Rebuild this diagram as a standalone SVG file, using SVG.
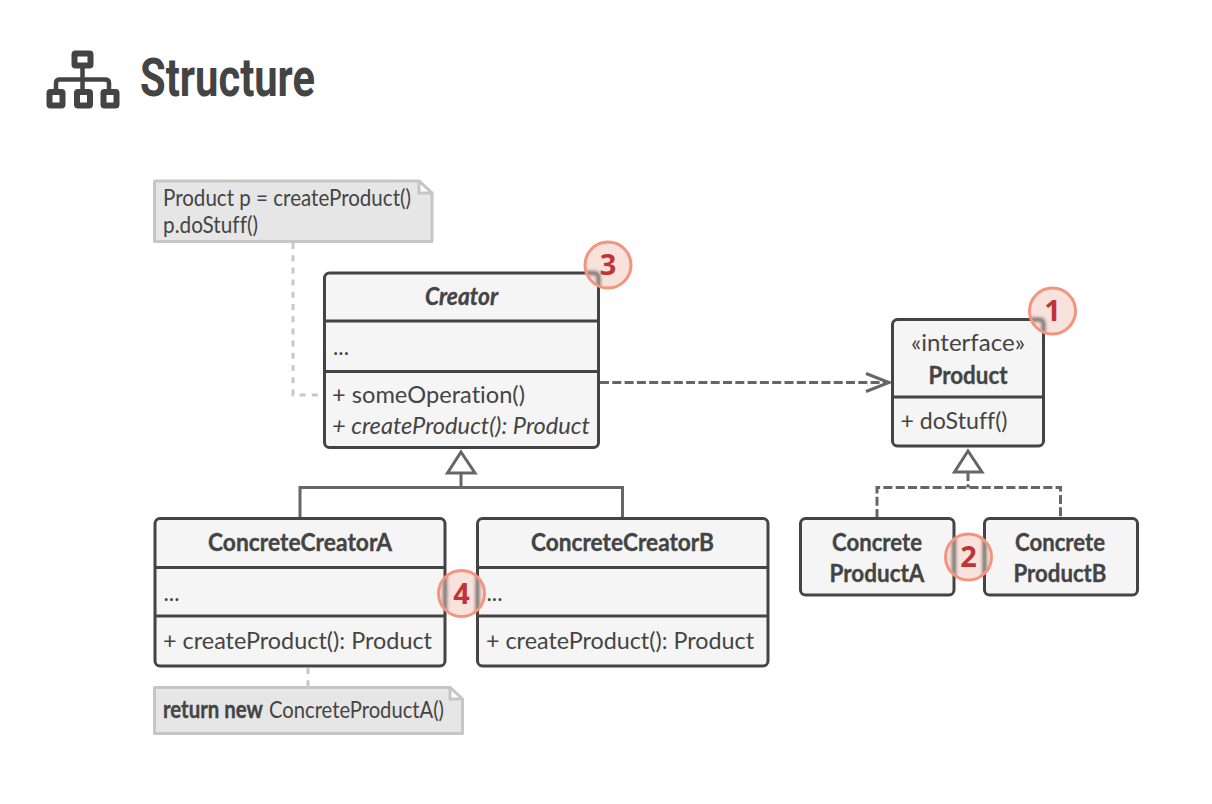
<svg xmlns="http://www.w3.org/2000/svg" width="1212" height="804" viewBox="0 0 1212 804">
<style>
text{font-family:Lato,"Noto Sans","Liberation Sans",sans-serif;font-size:24px;fill:#444;font-variant-ligatures:none}
.b{font-weight:700;stroke:#444;stroke-width:.35px}
.i{font-style:italic}
.m{text-anchor:middle}
.box{fill:#f5f5f5;stroke:#444;stroke-width:3}
.div{stroke:#444;stroke-width:3;fill:none}
.note{fill:#e6e6e6;stroke:#c6c6c6;stroke-width:3;stroke-linejoin:round}
.c{fill:none;stroke:#666;stroke-width:3}
.dash{stroke-dasharray:9 3.3}
.dot{fill:none;stroke:#c8c8c8;stroke-width:3;stroke-dasharray:6 6.2}
.tri{fill:#fff;stroke:#666;stroke-width:3;stroke-linejoin:miter}
.disc{fill:#f9ddd6;fill-opacity:.86}
.ring{fill:none;stroke:#f4947e;stroke-width:3}
.shade{fill:none;stroke:#555;stroke-width:5;stroke-opacity:.6;filter:url(#soft)}
.badge text{font-family:"Noto Sans",sans-serif;font-size:29px;font-weight:700;fill:#bf3439;text-anchor:middle}
.h{font-family:Roboto,"Liberation Sans",sans-serif;font-size:53px;font-weight:700;fill:#444}
</style>
<defs>
<filter id="soft" x="-50%" y="-50%" width="200%" height="200%"><feGaussianBlur stdDeviation="1.5"/></filter>
<clipPath id="clip1"><circle cx="1052.500" cy="311" r="22"/></clipPath>
<clipPath id="clip2"><circle cx="968.500" cy="557" r="22"/></clipPath>
<clipPath id="clip3"><circle cx="608" cy="265" r="22"/></clipPath>
<clipPath id="clip4"><circle cx="461.500" cy="593.500" r="22"/></clipPath>
</defs>
<g id="title">
<g fill="none" stroke="#444" stroke-width="6" stroke-linejoin="round">
<rect x="74.500" y="53.500" width="16" height="12" rx="1"/>
<rect x="49.500" y="92" width="13" height="13.500" rx="1"/>
<rect x="77" y="92" width="13" height="13.500" rx="1"/>
<rect x="103.500" y="92" width="13" height="13.500" rx="1"/>
<path d="M82.500 68V89M56 89V83Q56 79.500 60 79.500H105Q109 79.500 109 83V89" stroke-width="4.500"/>
</g>
<text class="h" x="140" y="96" textLength="175" lengthAdjust="spacingAndGlyphs">Structure</text>
</g>
<g id="connectors">
<path class="dot" d="M293 243V395H323"/>
<path class="dot" d="M308 668V687"/>
<path class="c dash" d="M600 382.500H888"/>
<path class="c" d="M866 373.500L889 382.500L866 391.500" stroke-linejoin="miter"/>
<path class="c" d="M461 472V487.500M300 518V487.500H622.500V518"/>
<path class="c dash" d="M968 472V487.500M877 518V487.500H1060.500V518"/>
<path class="tri" d="M461 452L475 473H447.500Z"/>
<path class="tri" d="M968 451L982 472H954.500Z"/>
</g>
<g id="note-creator">
<path class="note" d="M154.500 181H419L432 193V241.500H154.500Z"/>
<path d="M419 181V193H432Z" fill="#fff" stroke="#c6c6c6" stroke-width="3" stroke-linejoin="round"/>
<text x="163" y="206" textLength="248" lengthAdjust="spacingAndGlyphs">Product p = createProduct()</text>
<text x="163" y="233" textLength="95" lengthAdjust="spacingAndGlyphs">p.doStuff()</text>
</g>
<g id="creator">
<rect class="box" x="324.500" y="273" width="274" height="174.500" rx="5"/>
<path class="div" d="M324.500 321H598.500M324.500 371.500H598.500"/>
<text class="b i m" x="461.500" y="305" textLength="73" lengthAdjust="spacingAndGlyphs">Creator</text>
<text x="333" y="355" textLength="16" lengthAdjust="spacingAndGlyphs">...</text>
<text x="332" y="403" textLength="193" lengthAdjust="spacingAndGlyphs">+ someOperation()</text>
<text class="i" x="332" y="434" textLength="258" lengthAdjust="spacingAndGlyphs">+ createProduct(): Product</text>
</g>
<g id="product">
<rect class="box" x="892.500" y="319.500" width="151" height="126.500" rx="5"/>
<path class="div" d="M892.500 397H1043.500"/>
<text class="m" x="968" y="351" textLength="114" lengthAdjust="spacingAndGlyphs">«interface»</text>
<text class="b m" x="968" y="383.500" textLength="79" lengthAdjust="spacingAndGlyphs">Product</text>
<text x="900.500" y="429" textLength="107" lengthAdjust="spacingAndGlyphs">+ doStuff()</text>
</g>
<g id="concrete-product-a">
<rect class="box" x="800.500" y="518.500" width="153.500" height="76.500" rx="5"/>
<text class="b m" x="877" y="550.500" textLength="90" lengthAdjust="spacingAndGlyphs">Concrete</text>
<text class="b m" x="877" y="581.500" textLength="95" lengthAdjust="spacingAndGlyphs">ProductA</text>
</g>
<g id="concrete-product-b">
<rect class="box" x="984.500" y="518.500" width="153" height="76.500" rx="5"/>
<text class="b m" x="1060" y="550.500" textLength="90" lengthAdjust="spacingAndGlyphs">Concrete</text>
<text class="b m" x="1060" y="581.500" textLength="93" lengthAdjust="spacingAndGlyphs">ProductB</text>
</g>
<g id="concrete-creator-a">
<rect class="box" x="155" y="518.500" width="290" height="147.500" rx="5"/>
<path class="div" d="M155 567.500H445M155 616H445"/>
<text class="b m" x="300" y="551" textLength="184" lengthAdjust="spacingAndGlyphs">ConcreteCreatorA</text>
<text x="163.500" y="601" textLength="16" lengthAdjust="spacingAndGlyphs">...</text>
<text x="163" y="649" textLength="269" lengthAdjust="spacingAndGlyphs">+ createProduct(): Product</text>
</g>
<g id="concrete-creator-b">
<rect class="box" x="477.500" y="518.500" width="290.500" height="147.500" rx="5"/>
<path class="div" d="M477.500 567.500H768M477.500 616H768"/>
<text class="b m" x="622.500" y="551" textLength="183" lengthAdjust="spacingAndGlyphs">ConcreteCreatorB</text>
<text x="486.500" y="601" textLength="16" lengthAdjust="spacingAndGlyphs">...</text>
<text x="486" y="649" textLength="268" lengthAdjust="spacingAndGlyphs">+ createProduct(): Product</text>
</g>
<g id="note-concrete">
<path class="note" d="M154.500 687.500H450L462.500 699V733.500H154.500Z"/>
<path d="M450 687.500V699H462.500Z" fill="#fff" stroke="#c6c6c6" stroke-width="3" stroke-linejoin="round"/>
<text x="163" y="718" class="b" textLength="100" lengthAdjust="spacingAndGlyphs">return new</text>
<text x="269" y="718" textLength="175" lengthAdjust="spacingAndGlyphs">ConcreteProductA()</text>
</g>
<g id="badge-1" class="badge"><circle class="disc" cx="1052.500" cy="311" r="23"/><g clip-path="url(#clip1)"><path class="shade" d="M1030 319.500H1039Q1043.500 319.500 1043.500 324V340"/></g><circle class="ring" cx="1052.500" cy="311" r="23"/><text x="1052.500" y="321">1</text></g>
<g id="badge-2" class="badge"><circle class="disc" cx="968.500" cy="557" r="23"/><g clip-path="url(#clip2)"><path class="shade" d="M954 530V585M984.500 530V585"/></g><circle class="ring" cx="968.500" cy="557" r="23"/><text x="968.500" y="567">2</text></g>
<g id="badge-3" class="badge"><circle class="disc" cx="608" cy="265" r="23"/><g clip-path="url(#clip3)"><path class="shade" d="M585 273H594Q598.500 273 598.500 277.500V295"/></g><circle class="ring" cx="608" cy="265" r="23"/><text x="608" y="275">3</text></g>
<g id="badge-4" class="badge"><circle class="disc" cx="461.500" cy="593.500" r="23"/><g clip-path="url(#clip4)"><path class="shade" d="M445 565V622M477.500 565V622"/></g><circle class="ring" cx="461.500" cy="593.500" r="23"/><text x="461.500" y="604">4</text></g>
</svg>
